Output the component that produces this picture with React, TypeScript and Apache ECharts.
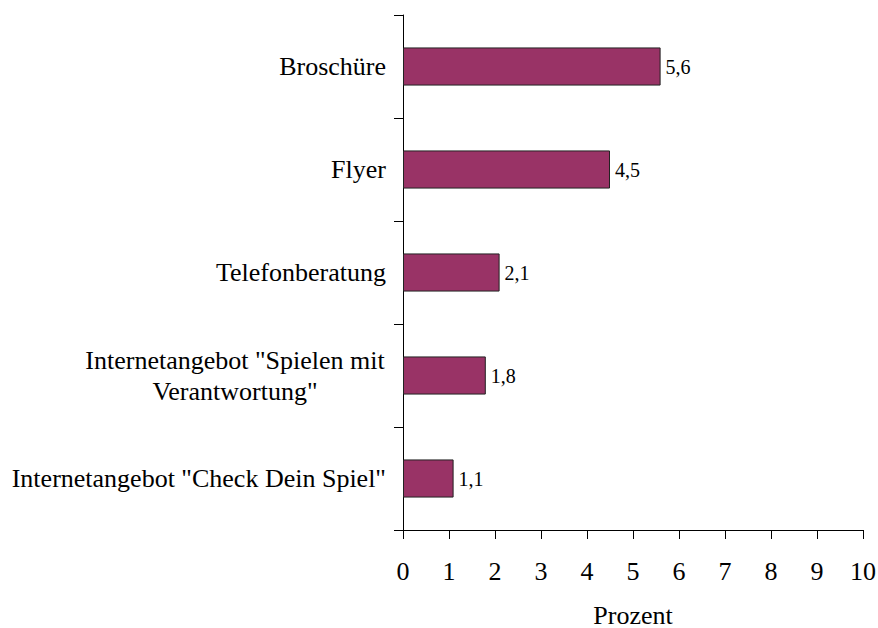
import React, { useEffect, useRef } from "react";
import * as echarts from "echarts";

const categories = [
  "Broschüre",
  "Flyer",
  "Telefonberatung",
  'Internetangebot "Spielen mit\nVerantwortung"',
  'Internetangebot "Check Dein Spiel"',
];
const values = [5.6, 4.5, 2.1, 1.8, 1.1];
const xTicks = [0, 1, 2, 3, 4, 5, 6, 7, 8, 9, 10];

export default function App() {
  const ref = useRef<HTMLDivElement>(null);
  useEffect(() => {
    if (!ref.current) return;
    const chart = echarts.init(ref.current, undefined, { renderer: "svg" });
    const font = "Liberation Serif";
    chart.setOption({
      animation: false,
      grid: {
        left: 403,
        right: 15,
        top: 15,
        bottom: 98,
        containLabel: false,
        outerBoundsMode: "none",
      },
      xAxis: {
        type: "value",
        min: xTicks[0],
        max: xTicks[xTicks.length - 1],
        interval: 1,
        name: "Prozent",
        nameLocation: "middle",
        nameGap: 73,
        nameTextStyle: { fontFamily: font, fontSize: 26, lineHeight: 24, color: "#000" },
        axisLine: { show: true, lineStyle: { color: "#000", width: 1 } },
        axisTick: { show: true, length: 9, inside: false, lineStyle: { color: "#000" } },
        axisLabel: { fontFamily: font, fontSize: 26, color: "#000", margin: 28 },
        splitLine: { show: false },
      },
      yAxis: {
        type: "category",
        data: categories,
        inverse: true,
        axisLine: { show: true, lineStyle: { color: "#000", width: 1 } },
        axisTick: { show: true, length: 9, lineStyle: { color: "#000" } },
        axisLabel: {
          fontFamily: font,
          fontSize: 26,
          color: "#000",
          margin: 17,
          formatter: (v: string) => (v.includes("\n") ? "{c|" + v + "}" : v),
          rich: {
            c: { fontFamily: font, fontSize: 26, color: "#000", width: 302, align: "center", lineHeight: 31 },
          },
        },
      },
      series: [
        {
          type: "bar",
          data: values,
          barCategoryGap: "63%",
          itemStyle: { color: "#993366", borderColor: "#222", borderWidth: 1 },
          label: {
            show: true,
            position: "right",
            distance: 5,
            fontFamily: font,
            fontSize: 20,
            color: "#000",
            formatter: (p: any) => String(p.value).replace(".", ","),
          },
        },
      ],
    });
    return () => chart.dispose();
  }, []);
  return (
    <div
      ref={ref}
      style={{ position: "absolute", left: 0, top: 0, width: 878, height: 628 }}
    />
  );
}
